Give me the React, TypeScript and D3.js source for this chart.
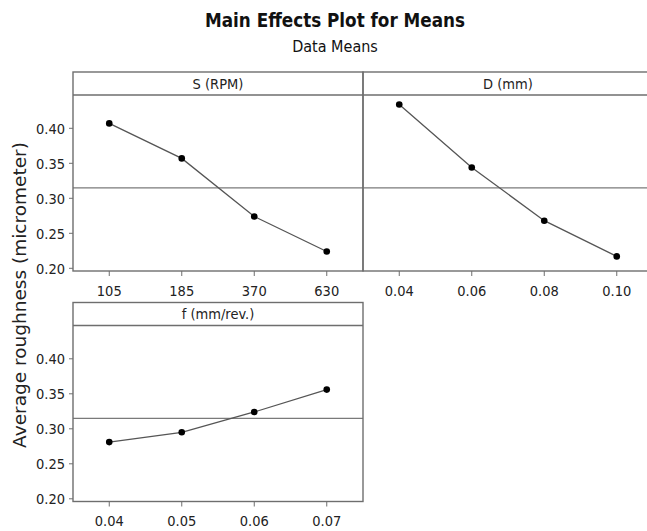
import React from "react";
import * as d3 from "d3";

const sLevels = ["105", "185", "370", "630"];
const sMeans = [0.407, 0.357, 0.274, 0.224];
const dLevels = ["0.04", "0.06", "0.08", "0.10"];
const dMeans = [0.434, 0.344, 0.268, 0.217];
const fLevels = ["0.04", "0.05", "0.06", "0.07"];
const fMeans = [0.281, 0.295, 0.324, 0.356];
const yTicks = [0.2, 0.25, 0.3, 0.35, 0.4];
const grandMean = 0.315;

const panels = [
  { title: "S (RPM)", levels: sLevels, means: sMeans, col: 0, row: 0 },
  { title: "D (mm)", levels: dLevels, means: dMeans, col: 1, row: 0 },
  { title: "f (mm/rev.)", levels: fLevels, means: fMeans, col: 0, row: 1 },
];

const W = 647;
const H = 531;
const left0 = 73;
const panelW = 290;
const rowTops = [72, 302.5];
const stripH = 23;
const plotH = 176;
const frame = "#6e6e6e";
const tickFont = "'DejaVu Sans Condensed', 'DejaVu Sans', sans-serif";

export default function App() {
  const y = d3.scaleLinear().domain([0.19614, 0.44757]).range([plotH, 0]);
  return (
    <svg
      width={W}
      height={H}
      style={{ position: "absolute", left: 0, top: 0, background: "#fff", overflow: "hidden" }}
    >
      <text
        x={335}
        y={27}
        textAnchor="middle"
        fontFamily={tickFont}
        fontWeight="bold"
        fontSize={20}
        textLength={260}
        lengthAdjust="spacingAndGlyphs"
        fill="#111"
      >
        Main Effects Plot for Means
      </text>
      <text x={335} y={52} textAnchor="middle" fontFamily={tickFont} fontSize={16} fill="#111">
        Data Means
      </text>
      <text
        transform={`translate(26,295) rotate(-90)`}
        textAnchor="middle"
        fontFamily="'DejaVu Sans', sans-serif"
        fontSize={18.5}
        fill="#222"
      >
        Average roughness (micrometer)
      </text>
      {panels.map((p, i) => {
        const x0 = left0 + p.col * panelW;
        const top = rowTops[p.row];
        const plotTop = top + stripH;
        const x = d3.scalePoint<string>().domain(p.levels).range([0, panelW]).padding(0.5);
        const line = d3
          .line<number>()
          .x((_, j) => x(p.levels[j]) as number)
          .y((d) => y(d));
        return (
          <g key={i}>
            <g transform={`translate(${x0},${plotTop})`}>
              <line x1={0} x2={panelW} y1={y(grandMean)} y2={y(grandMean)} stroke="#7a7a7a" strokeWidth={1.3} />
              <path d={line(p.means) || ""} fill="none" stroke="#555" strokeWidth={1.3} />
              {p.means.map((m, j) => (
                <circle key={j} cx={x(p.levels[j]) as number} cy={y(m)} r={3.3} fill="#000" />
              ))}
              {p.levels.map((l) => (
                <g key={l} transform={`translate(${x(l)},${plotH})`}>
                  <line y1={0} y2={5} stroke={frame} strokeWidth={1} />
                  <text y={24.8} textAnchor="middle" fontFamily={tickFont} fontSize={14.5} fill="#222">
                    {l}
                  </text>
                </g>
              ))}
              {p.col === 0 &&
                yTicks.map((t) => (
                  <g key={t} transform={`translate(0,${y(t)})`}>
                    <line x1={-4} x2={0} stroke={frame} strokeWidth={1} />
                    <text x={-8} dy="0.36em" textAnchor="end" fontFamily={tickFont} fontSize={14.5} fill="#222">
                      {d3.format(".2f")(t)}
                    </text>
                  </g>
                ))}
            </g>
            <rect x={x0} y={top} width={panelW} height={stripH + plotH} fill="none" stroke={frame} strokeWidth={1.4} />
            <line x1={x0} x2={x0 + panelW} y1={plotTop} y2={plotTop} stroke={frame} strokeWidth={1.4} />
            <text
              x={x0 + panelW / 2}
              y={top + stripH / 2}
              dy="0.36em"
              textAnchor="middle"
              fontFamily={tickFont}
              fontSize={14.5}
              fill="#222"
            >
              {p.title}
            </text>
          </g>
        );
      })}
    </svg>
  );
}
